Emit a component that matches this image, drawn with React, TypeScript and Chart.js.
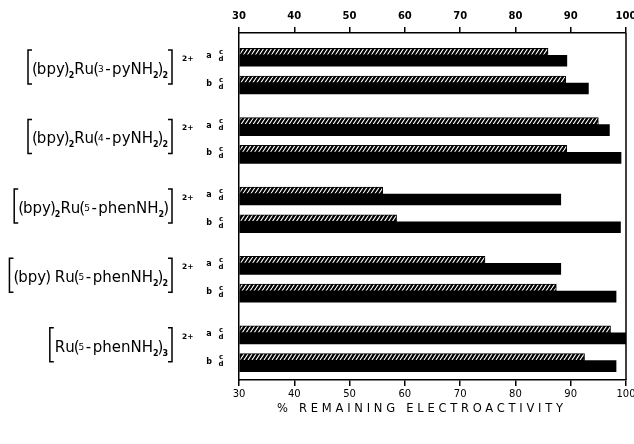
import React, { useEffect, useRef } from "react";
import { Chart, registerables } from "chart.js";

Chart.register(...registerables);

// ---- data ----
const rowLetters = ["a", "b", "a", "b", "a", "b", "a", "b", "a", "b"];
const rowPositions = [0, 2, 5, 7, 10, 12, 15, 17, 20, 22];
const valuesC = [85.9, 89.1, 95.0, 89.3, 56.0, 58.5, 74.5, 87.4, 97.2, 92.5];
const valuesD = [89.3, 93.2, 97.0, 99.1, 88.2, 99.0, 88.2, 98.2, 100, 98.2];
const seriesLabels = ["c", "d"];
const xTickValues = [30, 40, 50, 60, 70, 80, 90, 100];
const axisTitle = "% REMAINING ELECTROACTIVITY";
const charge = "2+";
// segments: n = normal, b = subscript, m = small digit
const compound1 = [["(bpy)", "n"], ["2", "b"], ["Ru(", "n"], ["3", "m"], ["-pyNH", "n"], ["2", "b"], [")", "n"], ["2", "b"]];
const compound2 = [["(bpy)", "n"], ["2", "b"], ["Ru(", "n"], ["4", "m"], ["-pyNH", "n"], ["2", "b"], [")", "n"], ["2", "b"]];
const compound3 = [["(bpy)", "n"], ["2", "b"], ["Ru(", "n"], ["5", "m"], ["-phenNH", "n"], ["2", "b"], [")", "n"]];
const compound4 = [["(bpy) Ru(", "n"], ["5", "m"], ["-phenNH", "n"], ["2", "b"], [")", "n"], ["2", "b"]];
const compound5 = [["Ru(", "n"], ["5", "m"], ["-phenNH", "n"], ["2", "b"], [")", "n"], ["3", "b"]];
const compoundLabels = [compound1, compound2, compound3, compound4, compound5];

const FAMILY = '"DejaVu Sans", "Liberation Sans", sans-serif';

function segFont(kind: string) {
  if (kind === "n") return `15px ${FAMILY}`;
  if (kind === "b") return `bold 8px ${FAMILY}`;
  return `9px ${FAMILY}`;
}

// per-character advance tweaks mimicking the stencil lettering
function charAdvance(ctx: CanvasRenderingContext2D, ch: string) {
  const w = ctx.measureText(ch).width;
  if (ch === "(" || ch === ")") return w - 2;
  if (ch === "-") return w + 3;
  return w;
}

function charOffset(ch: string) {
  if (ch === "(" || ch === ")") return -1;
  if (ch === "-") return 1.5;
  return 0;
}

function segWidth(ctx: CanvasRenderingContext2D, t: string, k: string) {
  ctx.font = segFont(k);
  if (k !== "n") return ctx.measureText(t).width;
  let w = 0;
  for (const ch of t) w += charAdvance(ctx, ch);
  return w;
}

function drawFormula(ctx: CanvasRenderingContext2D, segs: string[][], rightX: number, cy: number) {
  const widths = segs.map(([t, k]) => segWidth(ctx, t, k));
  const total = widths.reduce((a, b) => a + b, 0);
  const textRight = rightX - 4;
  let x = textRight - total;
  const leftX = x - 5;
  const base = cy + 6;
  ctx.textAlign = "left";
  ctx.textBaseline = "alphabetic";
  ctx.fillStyle = "#000";
  segs.forEach(([t, k], i) => {
    ctx.font = segFont(k);
    if (k === "n") {
      let cx = x;
      for (const ch of t) {
        ctx.fillText(ch, cx + charOffset(ch), base);
        cx += charAdvance(ctx, ch);
      }
    } else {
      const by = k === "b" ? base + 4 : base - 2;
      ctx.fillText(t, x, by);
    }
    x += widths[i];
  });
  // brackets
  const top = cy - 18;
  const bot = cy + 16;
  ctx.strokeStyle = "#000";
  ctx.lineWidth = 1.5;
  ctx.beginPath();
  ctx.moveTo(leftX + 4, top);
  ctx.lineTo(leftX, top);
  ctx.lineTo(leftX, bot);
  ctx.lineTo(leftX + 4, bot);
  ctx.moveTo(rightX - 4, top);
  ctx.lineTo(rightX, top);
  ctx.lineTo(rightX, bot);
  ctx.lineTo(rightX - 4, bot);
  ctx.stroke();
  // charge
  ctx.font = `bold 7.5px ${FAMILY}`;
  ctx.fillText(charge, rightX + 10, cy - 7);
}

const labelPlugin = {
  id: "labels",
  afterDraw(chart: any) {
    const ctx: CanvasRenderingContext2D = chart.ctx;
    const ys = chart.scales.y;
    const area = chart.chartArea;
    ctx.save();
    ctx.strokeStyle = "#000";
    ctx.lineWidth = 1.5;
    ctx.beginPath();
    ctx.moveTo(area.right, area.top);
    ctx.lineTo(area.right, area.bottom);
    ctx.stroke();

    ctx.fillStyle = "#000";
    rowPositions.forEach((p, i) => {
      const py = ys.getPixelForValue(p);
      ctx.textAlign = "center";
      ctx.textBaseline = "middle";
      ctx.font = `bold 8px ${FAMILY}`;
      ctx.fillText(rowLetters[i], area.left - 30, py + 1);
      ctx.font = `bold 7px ${FAMILY}`;
      ctx.fillText(seriesLabels[0], area.left - 18, py - 3);
      ctx.fillText(seriesLabels[1], area.left - 18, py + 4);
    });

    compoundLabels.forEach((segs, g) => {
      const cy = (ys.getPixelForValue(rowPositions[2 * g]) + ys.getPixelForValue(rowPositions[2 * g + 1])) / 2;
      drawFormula(ctx, segs as string[][], area.left - 67, cy - 1);
    });

    // axis title
    ctx.font = `11.5px ${FAMILY}`;
    (ctx as any).letterSpacing = "0px";
    const w0 = ctx.measureText(axisTitle).width;
    const targetW = 286;
    const ls = (targetW - w0) / (axisTitle.length - 1);
    (ctx as any).letterSpacing = `${ls}px`;
    ctx.textAlign = "left";
    ctx.textBaseline = "middle";
    ctx.fillText(axisTitle, area.left + 181 - targetW / 2, area.bottom + 29);
    (ctx as any).letterSpacing = "0px";
    ctx.restore();
  },
};

function makeHatch(): CanvasPattern | string {
  const c = document.createElement("canvas");
  c.width = 4;
  c.height = 6;
  const g = c.getContext("2d");
  if (!g) return "#000";
  g.fillStyle = "#000";
  g.fillRect(0, 0, 4, 6);
  g.strokeStyle = "#fff";
  g.lineWidth = 1.1;
  g.beginPath();
  for (const off of [-4, 0, 4]) {
    g.moveTo(off, 6);
    g.lineTo(off + 4, 0);
  }
  g.stroke();
  const p = g.createPattern(c, "repeat");
  return p || "#000";
}

export default function App() {
  const ref = useRef<HTMLCanvasElement | null>(null);
  useEffect(() => {
    document.body.style.margin = "0";
    const canvas = ref.current;
    if (!canvas) return;
    const hatch = makeHatch();
    const xScaleCommon = (pos: string, height: number, pad: number, bold: boolean) => ({
      type: "linear" as const,
      axis: "x" as const,
      position: pos,
      min: 30,
      max: 100,
      afterBuildTicks: (s: any) => {
        s.ticks = xTickValues.map((v) => ({ value: v }));
      },
      ticks: {
        color: "#000",
        font: { family: FAMILY, size: 10, weight: bold ? "bold" : "normal" },
        padding: pad,
        maxRotation: 0,
        autoSkip: false,
      },
      grid: { drawOnChartArea: false, drawTicks: true, tickLength: 6, color: "#000", lineWidth: 1.5 },
      border: { display: true, color: "#000", width: 1.5 },
      afterFit: (s: any) => {
        s.height = height;
        s.paddingLeft = 0;
        s.paddingRight = 0;
      },
    });
    const chart = new Chart(canvas, {
      type: "bar",
      data: {
        datasets: [
          {
            label: seriesLabels[0],
            data: rowPositions.map((p, i) => ({ x: valuesC[i], y: p })),
            backgroundColor: hatch as any,
            borderColor: "#000",
            borderWidth: 1,
            borderSkipped: false,
            barThickness: 7,
            base: 30,
          },
          {
            label: seriesLabels[1],
            data: rowPositions.map((p, i) => ({ x: valuesD[i], y: p })),
            backgroundColor: "#000",
            borderWidth: 0,
            barThickness: 11,
            base: 30,
          },
        ],
      },
      options: {
        indexAxis: "y",
        responsive: false,
        animation: false,
        layout: { padding: { left: 0, right: 8, top: 0, bottom: 0 } },
        plugins: { legend: { display: false }, tooltip: { enabled: false } },
        scales: {
          y: {
            type: "linear",
            reverse: true,
            min: -1.6,
            max: 23.4,
            offset: false,
            grid: { display: false, drawTicks: false },
            ticks: { display: false },
            border: { display: true, color: "#000", width: 1.5 },
            afterFit: (s: any) => {
              s.width = 239;
              s.paddingTop = 0;
              s.paddingBottom = 0;
            },
          },
          x: xScaleCommon("bottom", 64, 2, false),
          x2: xScaleCommon("top", 33, 5, true),
        } as any,
      },
      plugins: [labelPlugin],
    } as any);
    return () => chart.destroy();
  }, []);
  return <canvas ref={ref} width={634} height={444} style={{ display: "block" }} />;
}
